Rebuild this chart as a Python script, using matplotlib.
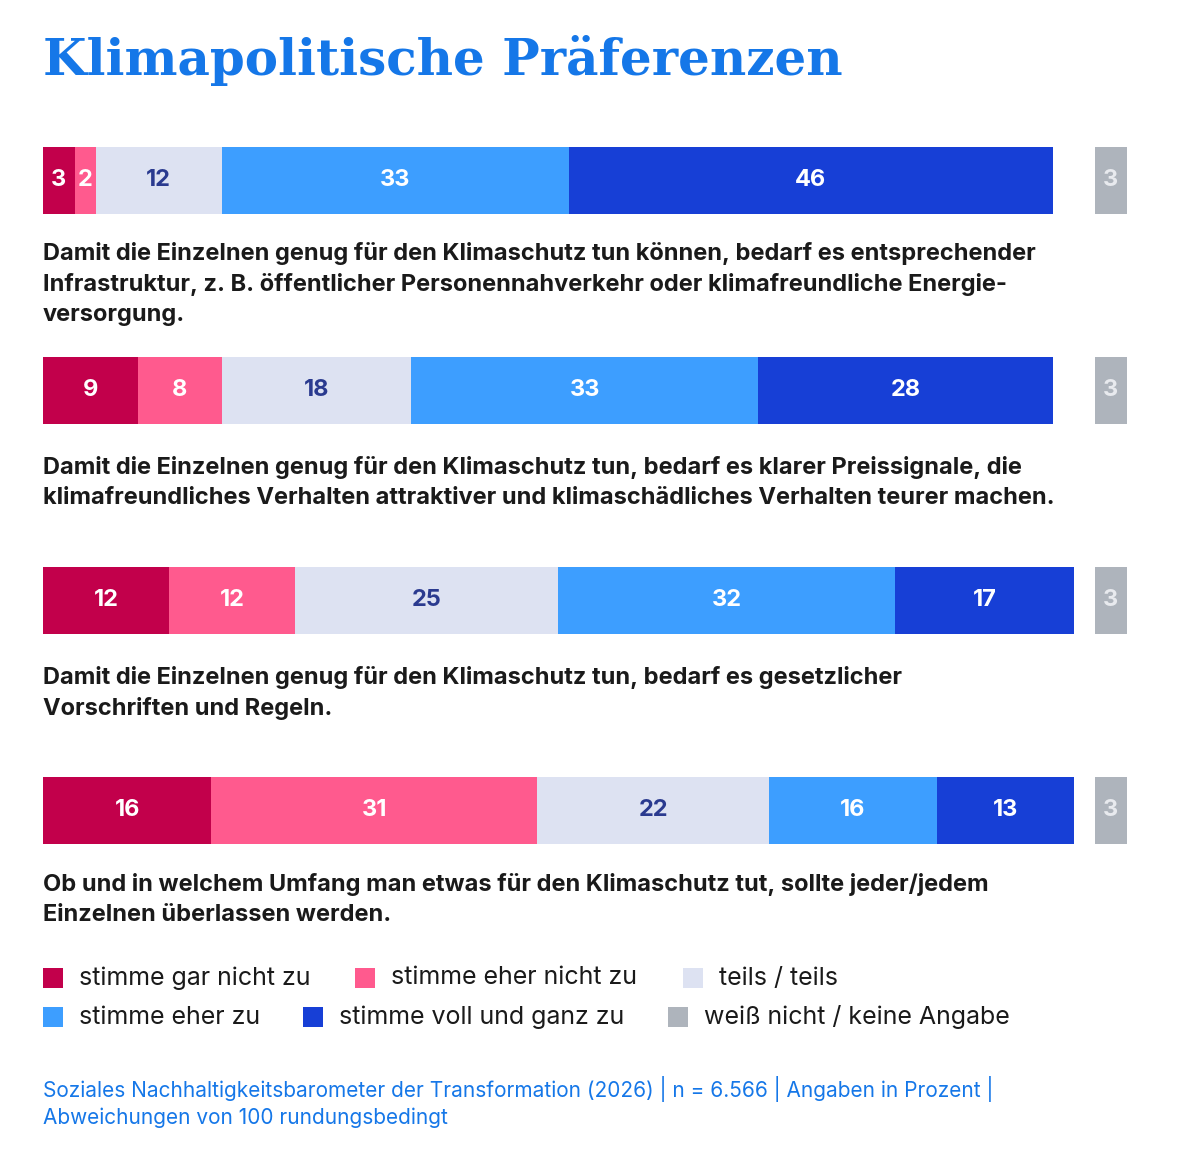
import matplotlib
matplotlib.use("Agg")
import matplotlib.pyplot as plt
from matplotlib.patches import Rectangle

categories = ["stimme gar nicht zu", "stimme eher nicht zu", "teils / teils",
              "stimme eher zu", "stimme voll und ganz zu", "weiß nicht / keine Angabe"]
values = [
    [3, 2, 12, 33, 46],
    [9, 8, 18, 33, 28],
    [12, 12, 25, 32, 17],
    [16, 31, 22, 16, 13],
]
dont_know = [3, 3, 3, 3]
statements = [
    "Damit die Einzelnen genug für den Klimaschutz tun können, bedarf es entsprechender\nInfrastruktur, z. B. öffentlicher Personennahverkehr oder klimafreundliche Energie-\nversorgung.",
    "Damit die Einzelnen genug für den Klimaschutz tun, bedarf es klarer Preissignale, die\nklimafreundliches Verhalten attraktiver und klimaschädliches Verhalten teurer machen.",
    "Damit die Einzelnen genug für den Klimaschutz tun, bedarf es gesetzlicher\nVorschriften und Regeln.",
    "Ob und in welchem Umfang man etwas für den Klimaschutz tut, sollte jeder/jedem\nEinzelnen überlassen werden.",
]
colors = ["#C2004B", "#FF5A8E", "#DDE2F2", "#3D9EFF", "#173FD6", "#AEB4BC"]
label_colors = ["white", "white", "#2A3A8F", "white", "white", "#E8EAEE"]

W, H = 1180, 1170
fig = plt.figure(figsize=(W/100, H/100), dpi=100)
ax = fig.add_axes([0, 0, 1, 1])
scale = 10.52
x0 = 43
ax.set_xlim(-x0/scale, (W-x0)/scale)
ax.set_ylim(H, 0)
ax.axis("off")
font = "Inter"

fig.text(43/W, 1-60/H, "Klimapolitische Präferenzen", family="DejaVu Serif",
         weight="bold", fontsize=36, color="#1577E8", va="center", ha="left")

bar_y = [180.5, 390.5, 600.5, 810.5]
text_y = [242, 456, 666, 873]
end = 103
for i, vals in enumerate(values):
    left = 0
    for j, v in enumerate(vals):
        ax.barh(bar_y[i], v, left=left, height=67, color=colors[j], linewidth=0)
        ax.text(left + v/2, bar_y[i], str(v), ha="center", va="center",
                color=label_colors[j], fontsize=17, weight="bold", family=font)
        left += v
    d = dont_know[i]
    ax.barh(bar_y[i], d, left=end-d, height=67, color=colors[5], linewidth=0)
    ax.text(end-d/2, bar_y[i], str(d), ha="center", va="center",
            color=label_colors[5], fontsize=17, weight="bold", family=font)
    ax.text(0, text_y[i], statements[i], ha="left", va="top", fontsize=17,
            weight="bold", family=font, color="#1A1A1A", linespacing=1.45)

leg_pos = [(43, 978), (355, 978), (683, 978), (43, 1017), (303, 1017), (668, 1017)]
for (px, py), c, lab in zip(leg_pos, colors, categories):
    ax.add_patch(Rectangle(((px - x0)/scale, py-10), 20/scale, 20, color=c, lw=0))
    ax.text((px + 36 - x0)/scale, py, lab, ha="left", va="center", fontsize=18,
            family=font, color="#1A1A1A")

ax.text(0, 1076, "Soziales Nachhaltigkeitsbarometer der Transformation (2026) | n = 6.566 | Angaben in Prozent |\nAbweichungen von 100 rundungsbedingt",
        ha="left", va="top", fontsize=15, family=font, color="#1577E8", linespacing=1.35)

fig.savefig("out.png", dpi=100)
